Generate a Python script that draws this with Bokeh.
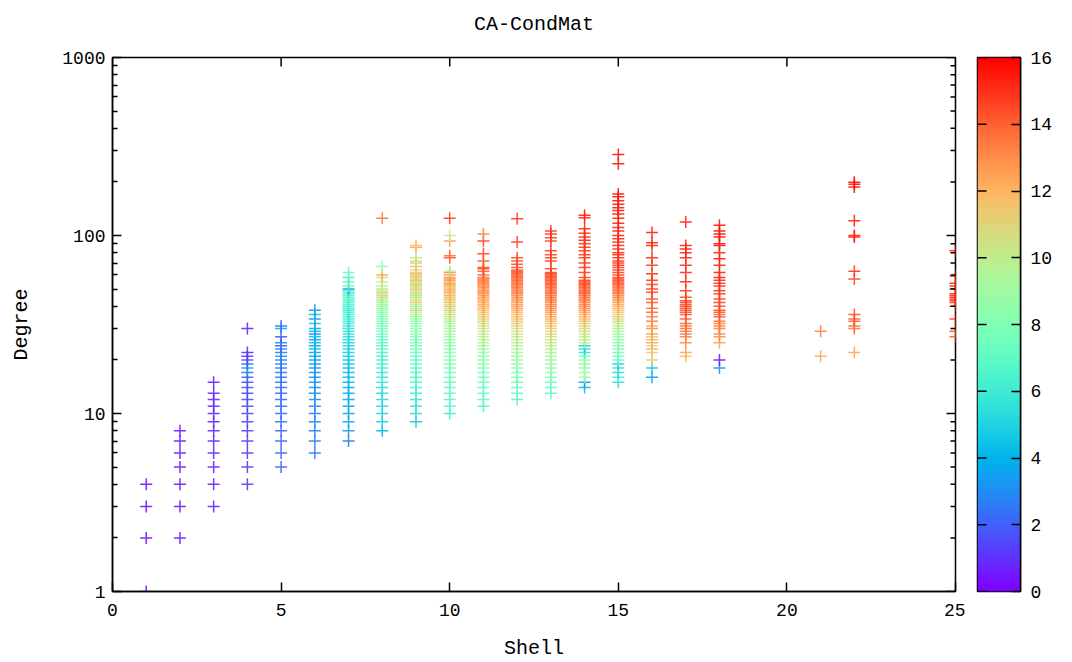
import numpy as np
from bokeh.plotting import figure
from bokeh.models import (Range1d, LinearAxis, FixedTicker, LinearColorMapper,
                          ColumnDataSource, BasicTickFormatter)
from bokeh.layouts import row
from bokeh.embed import file_html
from bokeh.resources import INLINE
from bokeh.transform import linear_cmap

# ---------------- data ----------------
title_text = "CA-CondMat"
x_label = "Shell"
y_label = "Degree"
x_ticks = [0, 5, 10, 15, 20, 25]
y_ticks = [1, 10, 100, 1000]
cb_ticks = [0, 2, 4, 6, 8, 10, 12, 14, 16]

s1_deg = [1, 2, 3, 4]
s1_col = [0.3, 0.3, 0.3, 0.3]
s2_deg = [2, 3, 4, 5, 6, 7, 8]
s2_col = [0.5, 0.5, 0.5, 0.5, 0.5, 0.5, 0.5]
s3_deg = [3, 4, 5, 6, 7, 8, 9, 10, 11, 12, 13, 15]
s3_col = [0.8, 0.8, 0.8, 0.8, 0.8, 0.8, 0.8, 0.8, 0.8, 0.8, 0.8, 0.8]
s4_deg = [4, 5, 6, 7, 8, 9, 10, 11, 12, 13, 14, 15, 16, 17, 18, 19, 20, 21, 22, 30]
s4_col = [1.2, 1.2, 1.3, 1.3, 1.4, 1.4, 1.5, 1.5, 1.6, 1.6, 1.7, 1.8, 2.0, 2.4, 4.0, 2.2, 1.6, 1.2, 1.0, 0.8]
s5_deg = [5, 6, 7, 8, 9, 10, 11, 12, 13, 14, 15, 16, 17, 18, 19, 20, 21, 22, 23, 24, 25, 27, 30, 31]
s5_col = [2.0, 2.0, 2.1, 2.1, 2.2, 2.2, 2.3, 2.3, 2.3, 2.4, 2.4, 2.5, 2.5, 2.6, 2.6, 2.8, 3.0, 2.7, 2.9, 1.6, 3.2, 1.8, 4.0, 2.2]
s6_deg = [6, 7, 8, 9, 10, 11, 12, 13, 14, 15, 16, 17, 18, 19, 20, 21, 22, 23, 24, 25, 26, 27, 28, 29, 30,
          32, 34, 36, 38]
s6_col = [2.6, 2.7, 2.7, 2.8, 2.8, 2.9, 2.9, 3.0, 3.0, 3.1, 3.1, 3.2, 3.2, 3.3, 3.4, 3.5, 3.6, 4.3, 3.7, 4.4,
          3.8, 4.5, 3.0, 4.4, 3.6, 4.6, 3.2, 4.5, 3.3]
s7_deg = [7, 8, 9, 10, 11, 12, 13, 14, 15, 16, 17, 18, 19, 20, 21, 22, 23, 24, 25, 26, 27, 28, 29, 30,
          31, 32, 33, 34, 35, 36, 37, 38, 39, 40, 41, 42, 43, 44, 45, 46, 47, 48, 49, 50, 52, 55, 58, 62]
s7_col = [2.5, 3.4, 3.5, 3.6, 3.7, 3.8, 3.9, 4.0, 4.1, 4.2, 4.3, 4.4, 4.5, 4.6, 4.8, 4.9, 5.0, 5.1, 5.2, 5.3,
          5.4, 5.4, 5.5, 5.6, 5.7, 5.8, 5.9, 6.0, 6.0, 6.1, 6.2, 5.5, 6.3, 6.3, 6.4, 6.5, 6.5, 6.6, 6.6, 6.7,
          6.7, 6.8, 6.8, 3.0, 6.9, 7.0, 6.2, 7.2]
s8_deg = [8, 9, 10, 11, 12, 13, 14, 15, 16, 17, 18, 19, 20, 21, 22, 23, 24, 25, 26, 27, 28, 29, 30, 31,
          32, 33, 34, 35, 36, 37, 38, 39, 40, 41, 42, 43, 44, 45, 46, 47, 48, 49, 50, 52, 55, 58, 60, 67, 125]
s8_col = [4.0, 4.8, 5.0, 5.1, 5.2, 5.3, 5.4, 5.8, 5.9, 6.0, 6.1, 6.2, 6.3, 6.4, 6.5, 6.8, 6.9, 7.0, 7.1, 7.2,
          7.3, 7.4, 7.5, 7.6, 7.7, 7.9, 8.0, 8.1, 8.2, 8.3, 8.4, 8.5, 9.5, 8.6, 8.7, 9.8, 8.8, 10.5, 11.5, 9.0,
          11.2, 9.2, 10.8, 9.5, 10.0, 11.0, 12.5, 8.6, 13.6]
s9_deg = [9, 10, 11, 12, 13, 14, 15, 16, 17, 18, 19, 20, 21, 22, 23, 24, 25, 26, 27, 28, 29, 30, 31, 32,
          33, 34, 35, 36, 37, 38, 39, 40, 41, 42, 43, 44, 45, 46, 47, 48, 49, 50, 51, 52, 53, 54, 55, 56,
          57, 58, 59, 60, 61, 62, 64, 67, 70, 72, 75, 86, 88]
s9_col = [4.6, 5.4, 5.6, 5.8, 6.0, 6.2, 6.5, 6.6, 6.8, 6.9, 7.0, 7.2, 7.3, 7.4, 7.7, 7.8, 7.9, 8.0, 8.1, 8.2,
          8.3, 8.4, 8.5, 8.6, 8.7, 8.8, 9.0, 9.0, 9.2, 11.4, 9.3, 9.4, 9.5, 11.6, 9.6, 9.7, 9.8, 11.5, 9.9, 10.0,
          10.0, 11.6, 10.1, 10.2, 11.8, 10.3, 10.4, 12.0, 10.5, 10.6, 11.5, 10.7, 12.0, 10.8,
          11.0, 11.6, 11.8, 10.6, 10.2, 12.4, 11.6]
s10_deg = [10, 11, 12, 13, 14, 15, 16, 17, 18, 19, 20, 21, 22, 23, 24, 25, 26, 27, 28, 29, 30, 31, 32, 33,
           34, 35, 36, 37, 38, 39, 40, 41, 42, 43, 44, 45, 46, 47, 48, 49, 50, 51, 52, 53, 54, 55, 56, 57,
           58, 60, 62, 63, 75, 77, 93, 100, 125]
s10_col = [6.0, 6.5, 6.7, 6.9, 7.0, 7.2, 7.5, 7.6, 7.7, 7.8, 7.9, 8.0, 8.1, 8.2, 8.3, 8.4, 8.6, 8.8, 9.0, 9.1,
           9.2, 9.3, 9.4, 9.5, 9.6, 9.7, 11.2, 9.8, 11.6, 10.0, 11.8, 10.2, 12.0, 10.4, 12.1, 11.5,
           12.2, 10.6, 12.3, 12.0, 12.4, 10.8, 12.5, 12.2, 12.6, 11.0, 12.6, 12.4, 12.8,
           12.8, 13.0, 9.6, 14.2, 13.6, 12.6, 10.2, 14.8]
s11_deg = [11, 12, 13, 14, 15, 16, 17, 18, 19, 20, 21, 22, 23, 24, 25, 26, 27, 28, 29, 30, 31, 32, 33, 34,
           35, 36, 37, 38, 39, 40, 41, 42, 43, 44, 45, 46, 47, 48, 49, 50, 51, 52, 53, 54, 55, 56, 57, 58,
           60, 63, 65, 66, 72, 79, 93, 102]
s11_col = [6.4, 7.0, 7.2, 7.3, 7.5, 7.6, 8.0, 8.2, 8.3, 8.5, 8.6, 8.8, 8.9, 9.0, 9.2, 9.5, 9.7, 9.9, 10.1,
           10.3, 10.5, 10.7, 10.9, 11.0, 11.2, 11.4, 11.6, 11.8, 12.0, 12.1, 12.2, 12.3, 12.4, 12.5, 12.6,
           12.7, 12.8, 12.9, 13.0, 12.6, 13.1, 13.2, 12.8, 13.3, 13.4, 13.0, 13.5, 13.6,
           13.8, 14.0, 14.3, 14.4, 14.2, 14.5, 14.5, 13.2]
s12_deg = [12, 13, 14, 15, 16, 17, 18, 19, 20, 21, 22, 23, 24, 25, 26, 27, 28, 29, 30, 31, 32, 33, 34, 35,
           36, 37, 38, 39, 40, 41, 42, 43, 44, 45, 46, 47, 48, 49, 50, 51, 52, 53, 54, 55, 56, 57, 58, 59,
           60, 61, 62, 63, 64, 66, 69, 72, 75, 92, 124]
s12_col = [6.6, 7.2, 7.4, 7.6, 7.8, 8.0, 8.2, 8.5, 8.7, 8.9, 9.1, 9.3, 9.5, 9.7, 10.0, 10.2, 10.4, 10.6, 10.8,
           11.0, 11.2, 11.4, 11.6, 11.8, 12.0, 12.1, 12.2, 12.4, 12.5, 12.6, 12.7, 12.8, 12.9, 13.0, 13.1,
           13.2, 13.3, 13.4, 13.5, 13.5, 13.6, 13.6, 13.7, 13.7, 13.8, 13.8, 13.9, 13.9, 14.0, 14.0, 14.1,
           14.1, 14.2, 14.3, 14.3, 14.4, 14.4, 14.6, 14.8]
s13_deg = [13, 14, 15, 16, 17, 18, 19, 20, 21, 22, 23, 24, 25, 26, 27, 28, 29, 30, 31, 32, 33, 34, 35, 36,
           37, 38, 39, 40, 41, 42, 43, 44, 45, 46, 47, 48, 49, 50, 51, 52, 53, 54, 55, 56, 57, 58, 59, 60,
           61, 62, 65, 72, 75, 78, 82, 93, 97, 102, 106]
s13_col = [6.8, 7.3, 7.6, 7.9, 8.2, 8.5, 8.8, 9.0, 9.2, 9.4, 9.6, 9.8, 10.0, 10.3, 10.6, 10.9, 11.1, 11.3,
           11.5, 11.7, 12.0, 12.2, 12.4, 12.6, 12.8, 12.9, 13.0, 13.1, 13.2, 13.3, 13.4, 13.5, 13.6, 13.7,
           13.7, 13.8, 13.8, 13.9, 13.9, 14.0, 14.0, 14.1, 14.1, 14.2, 14.2, 14.3, 14.3, 14.4, 14.4, 14.5,
           14.5, 14.6, 14.6, 14.6, 14.7, 14.7, 14.8, 14.8, 14.8]
s14_deg = [14, 15, 16, 17, 18, 19, 20, 21, 22, 23, 24, 25, 26, 27, 28, 29, 30, 31, 32, 33, 34, 35, 36, 37,
           38, 39, 40, 41, 42, 43, 44, 45, 46, 47, 48, 49, 50, 51, 52, 53, 54, 55, 56,
           58, 62, 66, 70, 75, 78, 82, 86, 90, 94, 98, 103, 109, 126, 130]
s14_col = [4.2, 3.2, 9.0, 8.6, 8.8, 8.4, 9.2, 7.6, 5.8, 5.2, 4.6, 9.6, 9.8, 10.0, 10.2, 10.5, 10.8, 11.0, 11.2,
           11.5, 11.8, 12.0, 12.2, 12.5, 12.7, 12.9, 13.1, 13.3, 13.4, 13.5, 13.6, 13.7, 13.8, 13.9, 14.0,
           14.1, 14.1, 14.2, 14.2, 14.3, 14.3, 14.4, 14.4,
           14.5, 14.6, 14.6, 14.7, 14.7, 14.8, 14.8, 14.9, 14.9, 15.0, 15.0, 15.1, 15.1, 15.3, 15.3]
s15_deg = [15, 16, 17, 18, 19, 20, 21, 22, 23, 24, 25, 26, 27, 28, 29, 30, 31, 32, 33, 34, 35, 36, 37, 38,
           39, 40, 41, 42, 43, 44, 45, 46, 47, 48, 49, 50, 51, 52, 53, 54, 55, 56, 57, 58,
           60, 62, 64, 66, 68, 70, 72, 75, 78, 80, 84, 88, 92, 96, 100,
           106, 111, 117, 125, 132, 138, 143, 150, 157, 165, 171, 253, 285]
s15_col = [5.4, 6.2, 5.0, 5.6, 4.8, 7.2, 7.4, 7.6, 7.8, 8.0, 8.4, 8.6, 8.8, 9.0, 9.2, 9.4, 9.8, 10.1, 10.4,
           10.7, 11.0, 11.2, 11.4, 11.6, 11.8, 12.0, 12.2, 12.4, 12.6, 12.8, 13.0, 13.2, 13.4, 13.5, 13.6,
           13.7, 13.8, 13.9, 14.0, 14.1, 14.2, 14.3, 14.4, 14.5,
           14.6, 14.6, 14.7, 14.7, 14.8, 14.8, 14.9, 14.9, 15.0, 15.0, 15.0, 15.1, 15.1, 15.1, 15.2,
           15.2, 15.2, 15.3, 15.3, 15.3, 15.4, 15.4, 15.4, 15.5, 15.5, 15.5, 15.6, 15.6]
s16_deg = [16, 18, 20, 22, 23, 24, 25, 26, 27, 28, 30, 31, 33, 35, 37, 39, 42, 44, 48, 50, 53, 56, 61, 68,
           75, 88, 91, 104]
s16_col = [3.6, 4.6, 11.5, 11.0, 12.0, 10.8, 12.3, 12.0, 11.2, 12.5, 13.0, 12.2, 13.4, 13.0, 13.8, 13.5,
           14.0, 14.1, 14.5, 14.6, 14.4, 14.8, 15.0, 14.8, 15.2, 15.0, 15.2, 15.3]
s17_deg = [21, 22, 25, 27, 28, 29, 30, 31, 32, 34, 36, 37, 38, 39, 40, 41, 42, 43, 45, 49, 55, 62, 68, 75,
           80, 84, 88, 119]
s17_col = [11.8, 12.2, 13.0, 13.2, 13.5, 13.4, 13.5, 13.6, 13.8, 14.0, 14.2, 14.3, 14.4, 14.4, 14.5, 14.4,
           14.5, 14.5, 14.6, 14.8, 15.0, 15.1, 15.1, 15.2, 15.2, 15.3, 15.3, 15.2]
s18_deg = [18, 20, 25, 27, 28, 30, 31, 32, 33, 35, 36, 37, 38, 40, 42, 44, 47, 49, 52, 54, 56, 58, 62, 68,
           74, 80, 88, 90, 98, 102, 106, 114]
s18_col = [3.2, 0.6, 12.4, 12.8, 13.0, 13.2, 13.4, 13.3, 13.6, 14.0, 13.8, 14.1, 14.2, 14.4, 14.6, 14.5,
           14.8, 14.9, 15.0, 14.8, 15.0, 15.1, 15.2, 15.2, 15.3, 15.2, 15.4, 15.3, 15.4, 15.5, 15.4, 15.5]
s21_deg = [21, 29]
s21_col = [12.4, 13.3]
s22_deg = [22, 30, 31, 33, 34, 36, 57, 63, 98, 100, 121, 187, 194, 199]
s22_col = [12.4, 13.5, 13.8, 14.0, 14.1, 14.3, 14.6, 14.8, 15.3, 15.4, 15.3, 15.5, 15.6, 15.6]
s25_deg = [27, 29, 34, 40, 42, 43, 44, 45, 46, 47, 50, 52, 54, 59, 82]
s25_col = [14.0, 14.2, 14.6, 14.8, 14.9, 15.0, 15.1, 14.9, 15.0, 15.1, 15.0, 15.2, 15.1, 14.9, 15.3]

shells = [1, 2, 3, 4, 5, 6, 7, 8, 9, 10, 11, 12, 13, 14, 15, 16, 17, 18, 21, 22, 25]
degrees_by_shell = [s1_deg, s2_deg, s3_deg, s4_deg, s5_deg, s6_deg, s7_deg, s8_deg, s9_deg, s10_deg,
                    s11_deg, s12_deg, s13_deg, s14_deg, s15_deg, s16_deg, s17_deg, s18_deg,
                    s21_deg, s22_deg, s25_deg]
levels_by_shell = [s1_col, s2_col, s3_col, s4_col, s5_col, s6_col, s7_col, s8_col, s9_col, s10_col,
                   s11_col, s12_col, s13_col, s14_col, s15_col, s16_col, s17_col, s18_col,
                   s21_col, s22_col, s25_col]

xs, ys, cs = [], [], []
for s, dl, cl in zip(shells, degrees_by_shell, levels_by_shell):
    n = min(len(dl), len(cl))
    xs += [s] * n
    ys += dl[:n]
    cs += cl[:n]
src = ColumnDataSource(dict(shell=xs, degree=ys, level=cs))

# ---------------- colour map (matplotlib-like "rainbow") ----------------
def rainbow(n=256):
    out = []
    for i in range(n):
        t = i / (n - 1)
        r = min(1.0, abs(2 * t - 0.5))
        g = np.sin(np.pi * t)
        b = max(0.0, np.cos(np.pi * t / 2))
        out.append("#%02x%02x%02x" % (int(round(r * 255)), int(round(g * 255)), int(round(b * 255))))
    return out

palette = rainbow()
LOW, HIGH = 0, 16
mapper = LinearColorMapper(palette=palette, low=LOW, high=HIGH)

FONT = "Liberation Mono"
TICK_FS = "18px"
LABEL_FS = "20px"
X0, X1 = 0, 25
Y0, Y1 = 1, 1000

# ---------------- main plot ----------------
p = figure(width=965, height=662, x_range=Range1d(X0, X1), y_range=Range1d(Y0, Y1),
           y_axis_type="log", output_backend="svg", toolbar_location=None,
           min_border_left=112, min_border_right=10, min_border_top=57, min_border_bottom=71)
p.xgrid.visible = False
p.ygrid.visible = False
p.outline_line_color = "black"
p.outline_line_width = 1.5
p.background_fill_color = "white"

p.scatter(x="shell", y="degree", source=src, marker="cross", size=12, line_width=1.5,
          line_color=linear_cmap("level", palette, LOW, HIGH), line_alpha=0.9)

def style_axis(ax):
    ax.axis_line_color = "black"
    ax.axis_line_width = 1.5
    ax.major_tick_line_color = "black"
    ax.major_tick_line_width = 1.5
    ax.minor_tick_line_color = "black"
    ax.minor_tick_line_width = 1.5
    ax.major_tick_in = 9
    ax.major_tick_out = 0
    ax.minor_tick_in = 5
    ax.minor_tick_out = 0
    ax.major_label_text_font = FONT
    ax.major_label_text_font_size = TICK_FS
    ax.major_label_text_color = "black"
    ax.major_label_text_line_height = 1.0
    ax.axis_label_text_font = FONT
    ax.axis_label_text_font_size = LABEL_FS
    ax.axis_label_text_font_style = "normal"
    ax.axis_label_text_color = "black"
    ax.axis_label_text_line_height = 1.0

minor_y = [m * 10 ** e for e in range(0, 3) for m in range(2, 10)]

xb = p.xaxis[0]
xb.ticker = FixedTicker(ticks=x_ticks, minor_ticks=[])
style_axis(xb)
xb.axis_label = x_label
xb.major_label_standoff = 12
xb.axis_label_standoff = 18

yl = p.yaxis[0]
yl.ticker = FixedTicker(ticks=y_ticks, minor_ticks=minor_y)
yl.formatter = BasicTickFormatter(use_scientific=False)
yl.major_label_overrides = {1: "1", 10: "10", 100: "100", 1000: "1000"}
style_axis(yl)
yl.axis_label = y_label
yl.major_label_standoff = 7
yl.axis_label_standoff = 26

# chart title: label of a tick-less axis above the frame (centred over it)
top = LinearAxis(ticker=FixedTicker(ticks=[], minor_ticks=[]))
style_axis(top)
top.axis_line_color = None
top.axis_label = title_text
top.axis_label_standoff = 22
p.add_layout(top, "above")

# mirrored inward ticks on the top and right frame edges (screen-length rays)
p.ray(x=x_ticks, y=[Y1] * len(x_ticks), length=9, length_units="screen", angle=-np.pi / 2,
      line_color="black", line_width=1.5)
p.ray(x=[X1] * len(y_ticks), y=y_ticks, length=9, length_units="screen", angle=np.pi,
      line_color="black", line_width=1.5)
p.ray(x=[X1] * len(minor_y), y=minor_y, length=5, length_units="screen", angle=np.pi,
      line_color="black", line_width=1.5)

# ---------------- colour bar ----------------
cb = figure(width=107, height=662, x_range=Range1d(0, 1), y_range=Range1d(LOW, HIGH),
            output_backend="svg", toolbar_location=None, x_axis_location=None, y_axis_location=None,
            min_border_left=12, min_border_right=52, min_border_top=57, min_border_bottom=71)
cb.xgrid.visible = False
cb.ygrid.visible = False
cb.outline_line_color = "black"
cb.outline_line_width = 1.5
grad = np.linspace(LOW, HIGH, 512).reshape(512, 1)
cb.image(image=[grad], x=0, y=LOW, dw=1, dh=HIGH - LOW, color_mapper=mapper)
cb.ray(x=[0] * len(cb_ticks), y=cb_ticks, length=9, length_units="screen", angle=0,
       line_color="black", line_width=1.5)

cbr = LinearAxis(ticker=FixedTicker(ticks=cb_ticks, minor_ticks=[]))
style_axis(cbr)
cbr.major_label_standoff = 10
cb.add_layout(cbr, "right")

layout = row(p, cb, spacing=0)
open("out.html", "w").write(file_html(layout, INLINE))
